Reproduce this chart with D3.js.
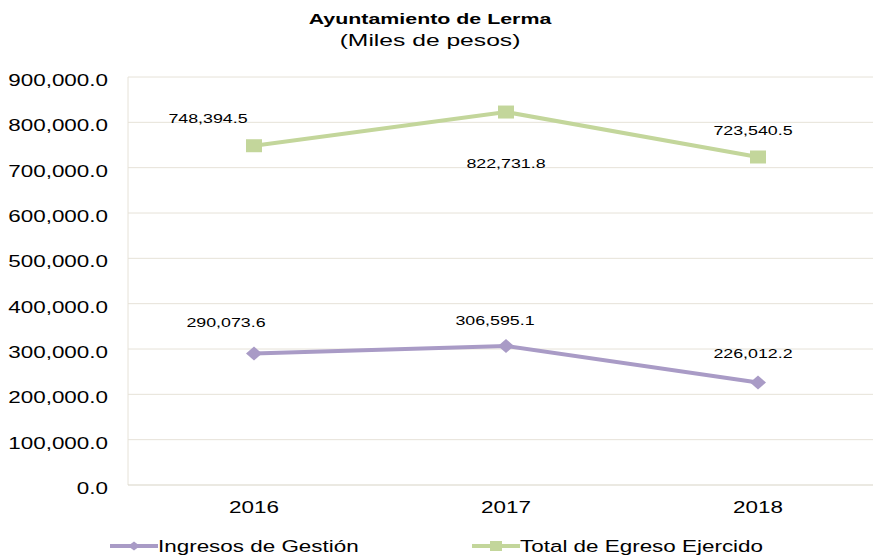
<!DOCTYPE html>
<html>
<head>
<meta charset="utf-8">
<script src="https://cdn.jsdelivr.net/npm/d3@7"></script>
<style>
  body { margin: 0; background: #fff; }
  text { font-family: "Liberation Sans", Arial, sans-serif; fill: #000; }
</style>
</head>
<body>
<div id="chart"></div>
<script>
var years = ["2016", "2017", "2018"]
var ingresos = [290073.6, 306595.1, 226012.2]
var egresos = [748394.5, 822731.8, 723540.5]
var yTicks = [0, 100000, 200000, 300000, 400000, 500000, 600000, 700000, 800000, 900000]
var seriesNames = ["Ingresos de Gestión", "Total de Egreso Ejercido"]
// label offsets (dx, dy of baseline) relative to each point
var ingresosLabelOff = [[-28, -26], [-11, -21], [-5, -25]]
var egresosLabelOff = [[-46, -23], [0, 56], [-5, -22]]

var width = 873, height = 556
var margins = {top: 77, left: 128, right: -11, bottom: 71}
var sx = 1.32  // the original text is drawn wide

var svg = d3.select("#chart").append("svg")
    .attr("width", width)
    .attr("height", height)

var xScale = d3.scalePoint().domain(years)
    .range([margins.left, width - margins.right]).padding(0.5)
var yScale = d3.scaleLinear().domain([0, 900000])
    .range([height - margins.bottom, margins.top])

var fmt = d3.format(",.1f")
var purple = "#A99BC6", green = "#C3D69B", grid = "#E6E2D8"

function wideText(sel, x, y, s) {
    return sel.append("text")
        .attr("transform", function(d, i) {
            var xx = typeof x === "function" ? x(d, i) : x
            var yy = typeof y === "function" ? y(d, i) : y
            return "translate(" + xx + "," + yy + ") scale(" + (s || sx) + ",1)"
        })
}

// title
wideText(svg, 430, 24, 1.38).attr("text-anchor", "middle")
    .style("font-weight", "bold").style("font-size", "15.5px")
    .text("Ayuntamiento de Lerma")
wideText(svg, 430, 46, 1.45).attr("text-anchor", "middle")
    .style("font-size", "17px")
    .text("(Miles de pesos)")

// gridlines
svg.selectAll(".grid").data(yTicks.slice(1)).enter().append("line")
    .attr("x1", margins.left).attr("x2", width - margins.right)
    .attr("y1", d => yScale(d)).attr("y2", d => yScale(d))
    .style("stroke", grid).style("stroke-width", 1)

// axes lines
svg.append("line").attr("x1", margins.left).attr("x2", margins.left)
    .attr("y1", yScale(900000)).attr("y2", yScale(0))
    .style("stroke", grid).style("stroke-width", 1)
svg.append("line").attr("x1", margins.left).attr("x2", width - margins.right)
    .attr("y1", yScale(0)).attr("y2", yScale(0))
    .style("stroke", "#D8D3C6").style("stroke-width", 1.2)

// y tick labels
var yt = svg.selectAll(".ytick").data(yTicks).enter()
wideText(yt, 108, d => yScale(d) + 9)
    .attr("text-anchor", "end").style("font-size", "17px")
    .text(d => fmt(d))

// x tick labels
var xt = svg.selectAll(".xtick").data(years).enter()
wideText(xt, d => xScale(d), 513)
    .attr("text-anchor", "middle").style("font-size", "17px")
    .text(d => d)

var line = d3.line().x(d => xScale(d[0])).y(d => yScale(d[1]))

function drawSeries(vals, color, marker, offs) {
    var pts = years.map((y, i) => [y, vals[i]])
    svg.append("path").datum(pts).attr("d", line)
        .style("fill", "none").style("stroke", color).style("stroke-width", 4)
    svg.selectAll(null).data(pts).enter().append("path")
        .attr("transform", d => "translate(" + xScale(d[0]) + "," + yScale(d[1]) + ")")
        .attr("d", marker).style("fill", color)
    var lbl = svg.selectAll(null).data(pts).enter()
    wideText(lbl, (d, i) => xScale(d[0]) + offs[i][0], (d, i) => yScale(d[1]) + offs[i][1])
        .attr("text-anchor", "middle").style("font-size", "13.5px")
        .text(d => fmt(d[1]))
}

var diamond = "M0,-7L8,0L0,7L-8,0Z"
var square = "M-8,-6.5H8V6.5H-8Z"

drawSeries(egresos, green, square, egresosLabelOff)
drawSeries(ingresos, purple, diamond, ingresosLabelOff)

// legend
var legend = [
    {name: seriesNames[0], color: purple, marker: "M0,-4.5L6,0L0,4.5L-6,0Z", x: 110},
    {name: seriesNames[1], color: green, marker: "M-6,-5H6V5H-6Z", x: 472}
]
var lg = svg.selectAll(".legend").data(legend).enter().append("g")
    .attr("transform", d => "translate(" + d.x + ",546)")
lg.append("line").attr("x1", 0).attr("x2", 48).attr("y1", 0).attr("y2", 0)
    .style("stroke", d => d.color).style("stroke-width", 4)
lg.append("path").attr("transform", "translate(24,0)")
    .attr("d", d => d.marker).style("fill", d => d.color)
wideText(lg, 48, 6).style("font-size", "17px")
    .text(d => d.name)
</script>
</body>
</html>
